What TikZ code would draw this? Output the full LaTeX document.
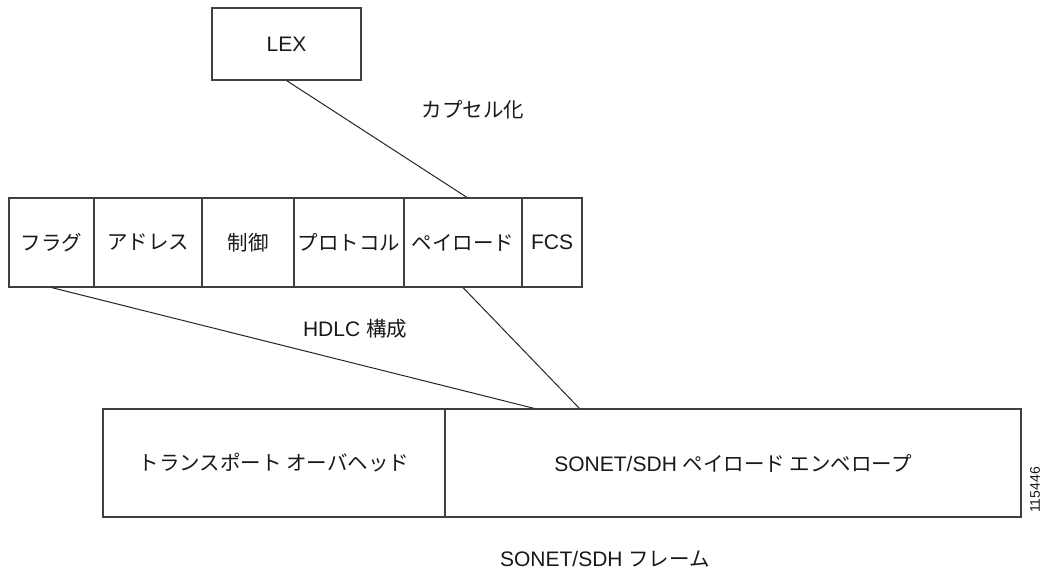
\documentclass[tikz,border=0pt]{standalone}
\usepackage{fontspec}
\setmainfont{Liberation Sans}
\newfontfamily\cjk{Noto Sans CJK JP}
\newcommand\jp[1]{{\fontsize{20.5}{24}\selectfont\cjk #1}}
\definecolor{ln}{gray}{0.25}
\definecolor{tx}{gray}{0.1}
\begin{document}
\begin{tikzpicture}[x=1pt,y=-1pt,
  cell/.style={draw=ln,line width=1.1pt,rectangle,inner sep=0pt,text=tx,font=\fontsize{21}{24}\selectfont},
  lbl/.style={inner sep=0pt,text=tx,font=\fontsize{21}{24}\selectfont},
  conn/.style={draw=black!85,line width=1pt}]
\useasboundingbox (0,0) rectangle (1048,569);
\fill[white] (0,0) rectangle (1048,569);
% LEX
\node[cell,minimum width=149pt,minimum height=72pt] (lex) at (286.5,44) {LEX};
% HDLC frame row
\node[cell,minimum width=85pt,minimum height=89pt] (flag) at (51.5,242.5) {\jp{フラグ}};
\node[cell,minimum width=108pt,minimum height=89pt] (addr) at (148,242.5) {\jp{アドレス}};
\node[cell,minimum width=92pt,minimum height=89pt] (ctrl) at (248,242.5) {\jp{制御}};
\node[cell,minimum width=110pt,minimum height=89pt] (proto) at (349,242.5) {\jp{プロトコル}};
\node[cell,minimum width=118pt,minimum height=89pt] (pay) at (463,242.5) {\jp{ペイロード}};
\node[cell,minimum width=60pt,minimum height=89pt] (fcs) at (552,242.5) {FCS};
% SONET frame
\node[cell,minimum width=342pt,minimum height=108pt] (trans) at (274,463) {\jp{トランスポート オーバヘッド}};
\node[cell,minimum width=576pt,minimum height=108pt] (env) at (733,463) {SONET/SDH \jp{ペイロード エンベロープ}};
% connectors
\draw[conn] (lex.south) -- ([xshift=4pt]pay.north);
\draw[conn] (flag.south) -- ([xshift=90pt]env.north west);
\draw[conn] (pay.south) -- ([xshift=135pt]env.north west);
% labels
\node[lbl] (encap) at (473,110) {\jp{カプセル化}};
\node[lbl] (hdlc) at (355,329) {HDLC \jp{構成}};
\node[lbl] (frame) at (605,559) {SONET/SDH \jp{フレーム}};
\node[lbl,rotate=90,font=\fontsize{14}{16}\selectfont] (num) at (1035,490) {115446};
\end{tikzpicture}
\end{document}
